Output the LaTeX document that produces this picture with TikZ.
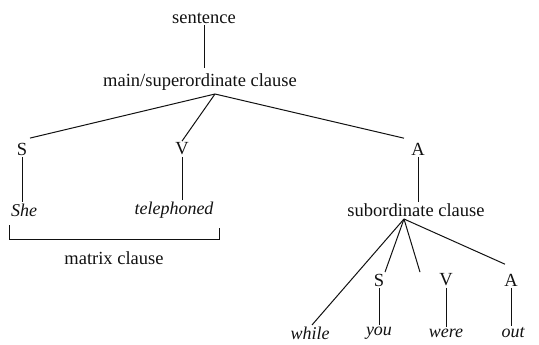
\documentclass[tikz,border=0pt]{standalone}
\usepackage{fontspec}
\setmainfont{Liberation Serif}
\usetikzlibrary{positioning, calc}
\definecolor{ink}{HTML}{111111}
\newcommand{\LabelF}{\fontsize{18.5}{20}\selectfont}
\newcommand{\WordF}{\fontsize{18}{20}\selectfont\itshape}

\begin{document}
\begin{tikzpicture}[x=1pt, y=-1pt,
    lbl/.style={font=\LabelF, text=ink, inner sep=1.5pt},
    word/.style={font=\WordF, text=ink, inner sep=1.5pt},
    edge/.style={draw=ink, line width=1pt}]
  \useasboundingbox (0,0) rectangle (539,345);

  % top of the tree
  \node[lbl] (sentence) at (204,18) {sentence};
  \node[lbl] (main) at (200,82) {main/superordinate clause};
  \coordinate (mainfoot) at (215,94);

  % main clause elements
  \node[lbl] (s1) at (22,149) {S};
  \node[lbl] (v1) at (182,149) {V};
  \node[lbl] (a1) at (418,149) {A};
  \node[word] (she) at (24,210) {She};
  \node[word] (tel) at (174,210) {telephoned};
  \node[lbl] (sub) at (416,210) {subordinate clause};
  \coordinate (subfoot) at (404,219);

  % subordinate clause elements
  \node[lbl] (s2) at (379,280) {S};
  \node[lbl] (v2) at (446,280) {V};
  \node[lbl] (a2) at (511,280) {A};
  \node[word] (while) at (310,333) {while};
  \node[word] (you) at (379,333) {you};
  \node[word] (were) at (446,333) {were};
  \node[word] (out) at (513,333) {out};

  \draw[edge] (sentence) -- ($(sentence |- main.north)+(0,-4)$);
  \draw[edge] (mainfoot) -- ($(s1.north)+(8,-3)$);
  \draw[edge] (mainfoot) -- (v1.north);
  \draw[edge] (mainfoot) -- ($(a1.north)+(-14,-3)$);
  \draw[edge] (s1) -- (s1 |- she.north);
  \draw[edge] (v1) -- (v1 |- tel.north);
  \draw[edge] (a1) -- (a1 |- sub.north);
  \draw[edge] (subfoot) -- ($(while.north)+(2,0)$);
  \draw[edge] (subfoot) -- ($(s2.north)+(6,0)$);
  \draw[edge] (subfoot) -- ($(v2.north)+(-26,0)$);
  \draw[edge] (subfoot) -- ($(a2.north)+(-6,-8)$);
  \draw[edge] (s2) -- (s2 |- you.north);
  \draw[edge] (v2) -- (v2 |- were.north);
  \draw[edge] (a2) -- (a2 |- out.north);

  % matrix bracket
  \draw[edge, line width=0.8pt] (9,225) -- (9,239) -- (219,239) -- (219,228);
  \node[lbl] (matrix) at (114,258) {matrix clause};
\end{tikzpicture}
\end{document}
